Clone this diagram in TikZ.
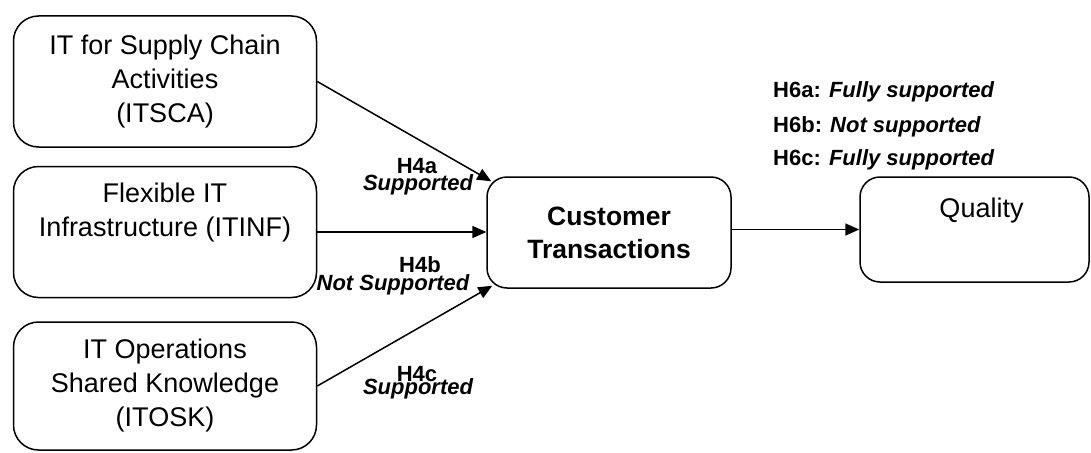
\documentclass[tikz,border=0pt]{standalone}
\usepackage{fontspec}
\setmainfont{Liberation Sans}
\usetikzlibrary{arrows.meta}
\tikzset{
  construct/.style={draw,line width=1.5pt,rounded corners=25pt,align=center,
    minimum width=303pt,minimum height=131pt,
    font=\fontsize{27}{34}\selectfont},
  outcome/.style={draw,line width=1.5pt,rounded corners=20pt,align=center,
    font=\fontsize{27}{34}\selectfont},
  hyp/.style={font=\bfseries\fontsize{22}{22}\selectfont,inner sep=0pt},
  verdict/.style={font=\bfseries\itshape\fontsize{22}{22}\selectfont,inner sep=0pt},
  path/.style={line width=1.5pt,-{Triangle[length=14pt,width=12pt]}}
}
\begin{document}
\begin{tikzpicture}[x=1pt,y=-1pt]
  \useasboundingbox (0,0) rectangle (1091,452);
  % antecedents
  \node[construct] (itsca) at (165,81.5) {IT for Supply Chain\\Activities\\(ITSCA)};
  \node[construct] (itinf) at (165,232) {Flexible IT\\Infrastructure (ITINF)\\ \strut};
  \node[construct,minimum height=128pt] (itosk) at (165,386) {IT Operations\\Shared Knowledge\\(ITOSK)};
  % mediator and outcome
  \node[outcome,minimum width=244pt,minimum height=111pt,
    font=\bfseries\fontsize{26.5}{33}\selectfont] (ct) at (609,232.5) {Customer\\Transactions};
  \node[outcome,minimum width=229pt,minimum height=105pt] (qual) at (974.5,229.5) {\hspace*{14pt}Quality\\ \strut};
  \draw[path] (itsca.east) -- ([xshift=5pt,yshift=-5pt]ct.north west);
  \draw[path] (itinf.east) -- (ct.west |- itinf.east);
  \draw[path] (itosk.east) -- ([xshift=6pt,yshift=3pt]ct.south west);
  \draw[path] (ct.east |- qual.west) -- (qual.west);
  % hypotheses
  \node[hyp] (h4a) at (417,166) {H4a};
  \node[verdict] (h4av) at (418,185) {Supported};
  \node[hyp] (h4b) at (420,265) {H4b};
  \node[verdict] (h4bv) at (393,285) {Not Supported};
  \node[hyp] (h4c) at (417,374) {H4c};
  \node[verdict] (h4cv) at (418,389) {Supported};
  \node[hyp,anchor=west] (h6a) at (773,92) {H6a: \textit{Fully supported}};
  \node[hyp,anchor=west] (h6b) at (773,127) {H6b: \textit{Not supported}};
  \node[hyp,anchor=west] (h6c) at (773,160) {H6c: \textit{Fully supported}};
\end{tikzpicture}
\end{document}
